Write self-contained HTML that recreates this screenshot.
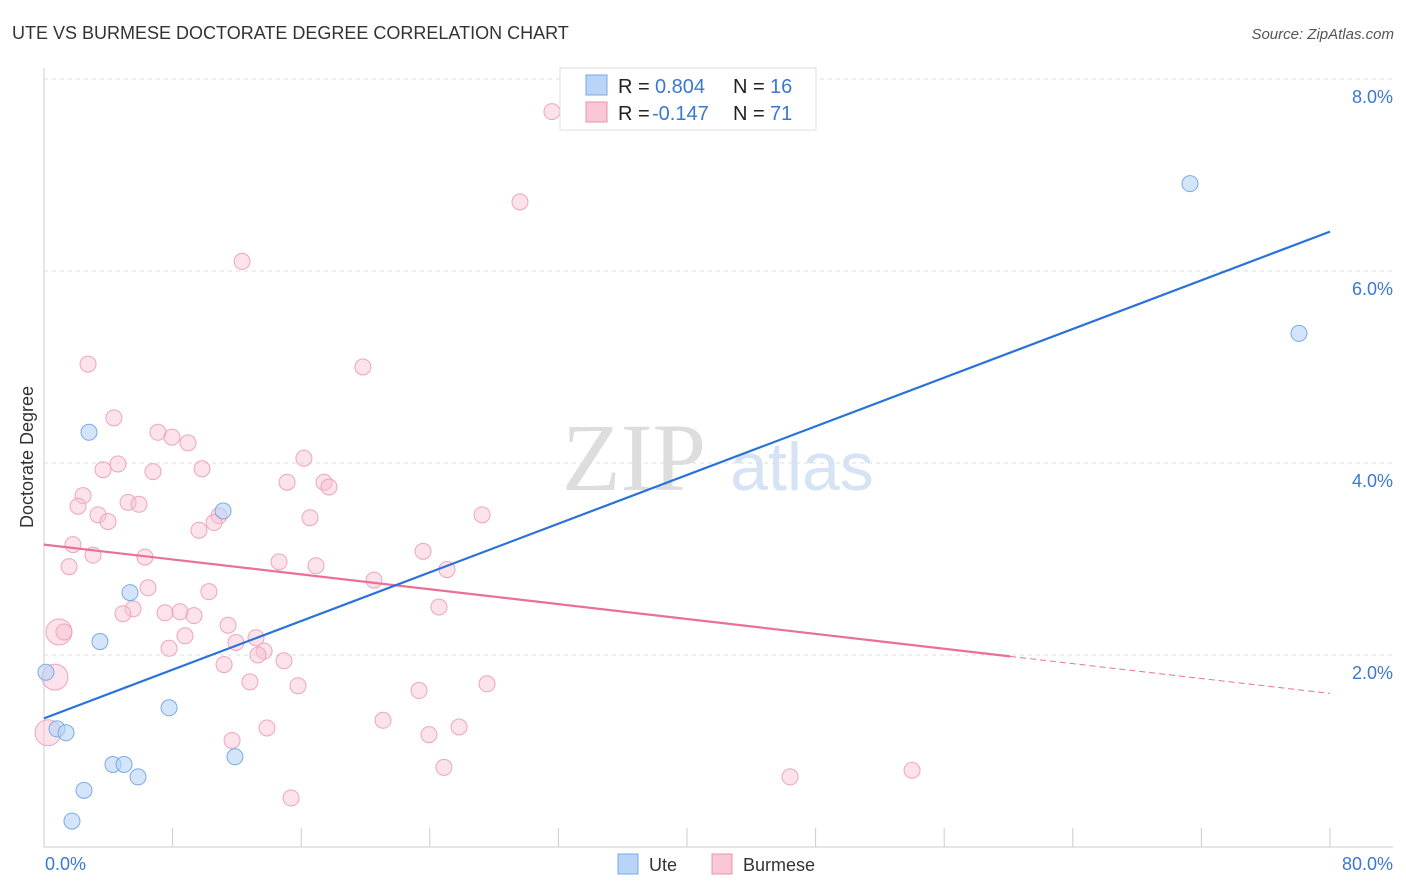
<!DOCTYPE html>
<html><head><meta charset="utf-8"><style>
body{margin:0;background:#fff;font-family:"Liberation Sans",sans-serif}
svg{display:block}
</style></head><body>
<svg id="c" width="1406" height="892">
<text x="12" y="39" font-size="18" fill="#333">UTE VS BURMESE DOCTORATE DEGREE CORRELATION CHART</text>
<text x="1394" y="39" font-size="15" fill="#555" font-style="italic" text-anchor="end">Source: ZipAtlas.com</text>
<text x="634" y="490" font-size="96" fill="#ddd" font-family="Liberation Serif,serif" text-anchor="middle">ZIP</text>
<text x="802" y="490" font-size="68" fill="#d5e3f5" text-anchor="middle">atlas</text>
<g id="grid"></g><g id="marks"></g>
<text transform="translate(33,457) rotate(-90)" font-size="18" fill="#333" text-anchor="middle">Doctorate Degree</text>
<text x="45" y="870" font-size="18" fill="#3a78d4">0.0%</text>
<text x="1393" y="870" font-size="18" fill="#3a78d4" text-anchor="end">80.0%</text>
<g>
<rect x="560" y="68" width="256" height="62" fill="#fff" stroke="#ddd"/>
<rect x="586" y="75" width="21" height="20" fill="#b8d4f6" stroke="#7aaae8"/>
<rect x="586" y="102" width="21" height="20" fill="#f9c7d6" stroke="#eb93ae"/>
<text x="618" y="93" font-size="20" fill="#222">R = </text><text x="655" y="93" font-size="20" fill="#3a78d4">0.804</text>
<text x="733" y="93" font-size="20" fill="#222">N = </text><text x="770" y="93" font-size="20" fill="#3a78d4">16</text>
<text x="618" y="120" font-size="20" fill="#222">R = </text><text x="652" y="120" font-size="20" fill="#3a78d4">-0.147</text>
<text x="733" y="120" font-size="20" fill="#222">N = </text><text x="770" y="120" font-size="20" fill="#3a78d4">71</text>
</g>
<g><rect x="618" y="854" width="20" height="20" fill="#b8d4f6" stroke="#7aaae8"/><text x="649" y="871" font-size="18" fill="#333">Ute</text></g>
<g><rect x="712" y="854" width="20" height="20" fill="#f9c7d6" stroke="#eb93ae"/><text x="743" y="871" font-size="18" fill="#333">Burmese</text></g>
</svg>
<script>
const yTicks=[2,4,6,8];
const yTickLabels=["2.0%","4.0%","6.0%","8.0%"];
const uteX=[2.80,11.14,5.35,3.48,0.12,7.78,0.81,1.37,4.29,4.98,5.85,11.88,2.49,1.74,71.29,78.07];
const uteY=[4.32,3.50,2.65,2.14,1.82,1.45,1.23,1.19,0.86,0.86,0.73,0.94,0.59,0.27,6.91,5.35];
const burX=[31.60,29.61,12.32,2.74,19.84,4.35,7.09,7.96,8.96,4.60,3.67,9.83,6.78,16.17,15.12,17.42,17.73,2.43,5.23,5.91,2.12,3.36,3.98,10.89,10.58,16.55,27.25,9.64,1.80,3.05,23.58,6.28,14.62,1.56,16.92,25.07,20.53,6.47,10.26,24.57,5.54,7.53,4.91,8.46,9.33,11.45,0.93,1.24,8.77,11.94,13.19,7.78,13.69,13.31,14.93,11.20,0.68,12.81,15.80,23.33,27.56,21.09,25.82,13.87,23.95,11.70,0.25,24.88,46.41,54.00,15.37];
const burY=[7.66,6.72,6.10,5.03,5.00,4.47,4.32,4.27,4.21,3.99,3.93,3.94,3.91,4.05,3.80,3.80,3.75,3.66,3.59,3.57,3.55,3.46,3.39,3.45,3.38,3.43,3.46,3.30,3.15,3.04,3.08,3.02,2.97,2.92,2.93,2.89,2.78,2.70,2.66,2.50,2.48,2.44,2.43,2.45,2.41,2.31,2.24,2.24,2.20,2.13,2.18,2.07,2.04,2.00,1.94,1.90,1.77,1.72,1.68,1.63,1.70,1.32,1.25,1.24,1.17,1.11,1.19,0.83,0.73,0.80,0.51];
const burBig=[46,56,66];
const uteTrend=[1.34,6.41];
const burTrend=[3.15,1.60];
const burSolidEnd=60.1;
const NS="http://www.w3.org/2000/svg";
const X=v=>44+v*16.075, Y=v=>847-v*96;
function mk(p,t,a){const e=document.createElementNS(NS,t);for(const k in a)e.setAttribute(k,a[k]);p.appendChild(e);return e;}
const g=document.getElementById('grid'),m=document.getElementById('marks');
yTicks.forEach((t,i)=>{
 const l=mk(g,'line',{x1:44,x2:1393,y1:Y(t),y2:Y(t),stroke:'#ddd','stroke-dasharray':'4,4'});
 
 
 const tx=mk(g,'text',{x:1393,y:Y(t)+24,'font-size':18,fill:'#3a78d4','text-anchor':'end'});
 tx.textContent=yTickLabels[i];
 
 
});
const ax=mk(g,'path',{d:'M44 68V847H1393',stroke:'#ccc',fill:'none'});


for(let i=0;i<=10;i++){const t=mk(g,'line',{x1:X(i*8),x2:X(i*8),y1:828,y2:847,stroke:'#ccc'});
 
 }
burX.forEach((x,i)=>{const c=mk(m,'circle',{cx:X(x),cy:Y(burY[i]),r:burBig.includes(i)?13:8,fill:'rgba(249,190,208,0.45)',stroke:'#eea5bd','stroke-width':1});
 
 });
uteX.forEach((x,i)=>{const c=mk(m,'circle',{cx:X(x),cy:Y(uteY[i]),r:8,fill:'rgba(184,212,246,0.6)',stroke:'#7aaae8','stroke-width':1});
 
 });
const bf=x=>burTrend[0]+(burTrend[1]-burTrend[0])*x/80;
const p1=mk(m,'line',{x1:X(0),y1:Y(bf(0)),x2:X(burSolidEnd),y2:Y(bf(burSolidEnd)),stroke:'#e8709a','stroke-width':2.2});


const p2=mk(m,'line',{x1:X(burSolidEnd),y1:Y(bf(burSolidEnd)),x2:X(80),y2:Y(bf(80)),stroke:'#e8709a','stroke-width':1,'stroke-dasharray':'6,4'});


const u=mk(m,'line',{x1:X(0),y1:Y(uteTrend[0]),x2:X(80),y2:Y(uteTrend[1]),stroke:'#2a72d8','stroke-width':2.2});


</script>
</body></html>
